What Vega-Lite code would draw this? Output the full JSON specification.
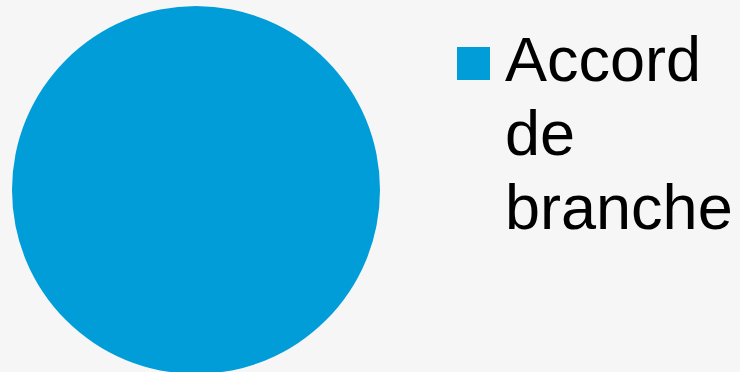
{
  "$schema": "https://vega.github.io/schema/vega-lite/v6.json",
  "width": 368,
  "height": 368,
  "padding": {"left": 12, "top": 6, "right": 360, "bottom": 0},
  "autosize": {"type": "none"},
  "background": "#f6f6f6",
  "config": {"view": {"stroke": null}},
  "data": {"values": [{"category": "Accord de branche", "value": 100}]},
  "mark": {"type": "arc", "outerRadius": 184},
  "encoding": {
    "theta": {"field": "value", "type": "quantitative", "stack": true},
    "color": {
      "field": "category",
      "type": "nominal",
      "scale": {"range": ["#009DD9"]},
      "legend": {
        "title": null,
        "orient": "none",
        "legendX": 430,
        "legendY": 26,
        "padding": 0,
        "symbolType": "square",
        "symbolSize": 1089,
        "symbolStrokeWidth": 0,
        "symbolOpacity": 1,
        "labelFont": "Liberation Sans",
        "labelFontSize": 63,
        "labelColor": "#000000",
        "labelLimit": 1000,
        "labelOffset": 0,
        "labelBaseline": "alphabetic",
        "labelExpr": "split(datum.label, ' ')",
        "encode": {
          "labels": {"update": {"dy": {"value": 17}, "lineHeight": {"value": 74}}}
        }
      }
    }
  }
}
